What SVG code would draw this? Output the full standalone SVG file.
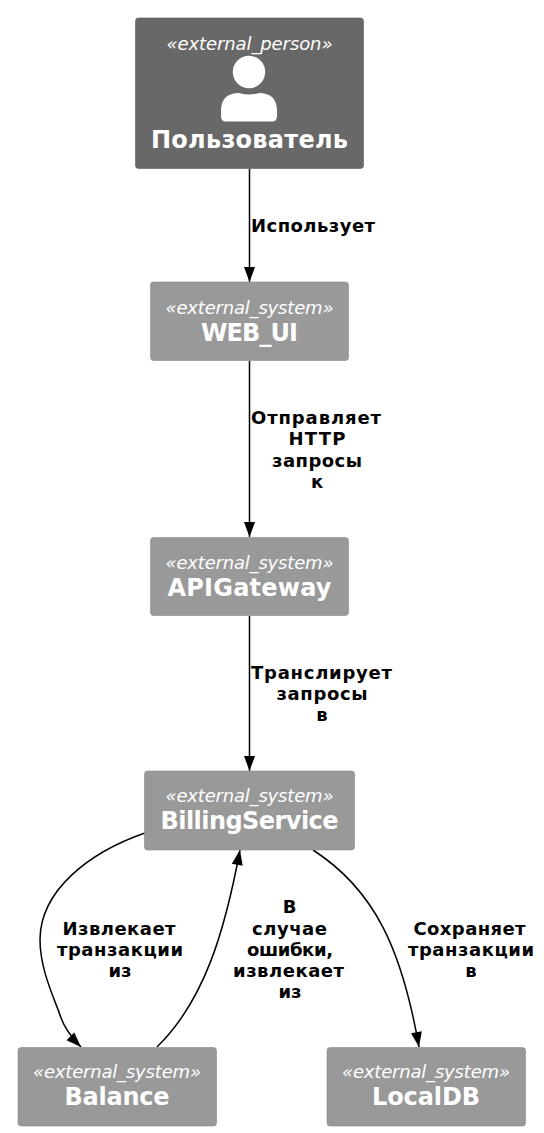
<svg xmlns="http://www.w3.org/2000/svg" width="544" height="1133" viewBox="0 0 544 1133">
<style>
text{font-family:"DejaVu Sans",sans-serif;text-anchor:middle}
.box{fill:#999999;stroke:#8a8a8a;stroke-width:0.6}
.st{font-size:18px;font-style:italic;fill:#fff}
.nm{font-size:24px;font-weight:bold;fill:#fff}
.lb{font-size:18px;font-weight:bold;fill:#000}
.c{fill:none;stroke:#000;stroke-width:1.5;marker-end:url(#a)}
</style>
<defs><marker id="a" markerUnits="userSpaceOnUse" markerWidth="15" markerHeight="11" refX="15" refY="5.500" viewBox="0 0 15 11" orient="auto" overflow="visible"><path d="M0 0L15 5.500L0 11Z" fill="#000"/></marker></defs>
<rect width="544" height="1133" fill="#fff"/>
<g id="connectors">
<path class="c" d="M249.500 169V282"/>
<path class="c" d="M249.500 361V537"/>
<path class="c" d="M249.500 616V771"/>
<path class="c" d="M145 833C90 852 40 890 40 940C40 970 55 1000 60 1015C64 1028 72 1038 81 1047"/>
<path class="c" d="M157 1047C205 1000 225 930 240 850"/>
<path class="c" d="M313 850C375 890 402 950 419 1047"/>
</g>
<g id="Пользователь">
<rect class="box" style="fill:#686868;stroke:#5c5c5c" x="135.500" y="18" width="228" height="150.500" rx="3"/>
<text class="st" x="249.500" y="50" textLength="166">«external_person»</text>
<circle cx="249" cy="72" r="16.200" fill="#fff"/>
<path d="M226 121.500Q221 121.500 221 116V111Q221 93 239 93Q249 96 259 93Q277 93 277 111V116Q277 121.500 272 121.500Z" fill="#fff"/>
<text class="nm" x="249.500" y="148" textLength="197">Пользователь</text>
</g>
<g id="WEB_UI">
<rect class="box" x="150.500" y="282" width="198" height="78.500" rx="3"/>
<text class="st" x="249.500" y="313.500" textLength="168">«external_system»</text>
<text class="nm" x="249.500" y="341" textLength="97">WEB_UI</text>
</g>
<g id="APIGateway">
<rect class="box" x="150.500" y="537.500" width="198" height="78" rx="3"/>
<text class="st" x="249.500" y="568.500" textLength="168">«external_system»</text>
<text class="nm" x="249.500" y="596" textLength="164">APIGateway</text>
</g>
<g id="BillingService">
<rect class="box" x="144.500" y="771" width="210" height="79" rx="3"/>
<text class="st" x="249.500" y="802" textLength="168">«external_system»</text>
<text class="nm" x="249.500" y="829" textLength="178">BillingService</text>
</g>
<g id="Balance">
<rect class="box" x="18" y="1047.500" width="198.500" height="78.500" rx="3"/>
<text class="st" x="117" y="1078" textLength="168">«external_system»</text>
<text class="nm" x="117" y="1105" textLength="105">Balance</text>
</g>
<g id="LocalDB">
<rect class="box" x="327" y="1047.500" width="198.500" height="78.500" rx="3"/>
<text class="st" x="426" y="1078" textLength="168">«external_system»</text>
<text class="nm" x="426" y="1105" textLength="108">LocalDB</text>
</g>
<g id="labels">
<text class="lb" x="313" y="232" textLength="124">Использует</text>
<text class="lb" x="316" y="424" textLength="130">Отправляет</text>
<text class="lb" x="317" y="445" textLength="57">HTTP</text>
<text class="lb" x="317" y="467" textLength="90">запросы</text>
<text class="lb" x="317" y="488">к</text>
<text class="lb" x="321.500" y="679" textLength="141">Транслирует</text>
<text class="lb" x="322" y="700" textLength="91">запросы</text>
<text class="lb" x="322" y="721">в</text>
<text class="lb" x="119" y="935" textLength="113">Извлекает</text>
<text class="lb" x="120" y="956" textLength="126">транзакции</text>
<text class="lb" x="120" y="977">из</text>
<text class="lb" x="289.500" y="913">В</text>
<text class="lb" x="289.500" y="935" textLength="75">случае</text>
<text class="lb" x="290" y="956" textLength="86">ошибки,</text>
<text class="lb" x="288.500" y="977" textLength="111">извлекает</text>
<text class="lb" x="290" y="998">из</text>
<text class="lb" x="469.500" y="935" textLength="112">Сохраняет</text>
<text class="lb" x="471" y="956" textLength="126">транзакции</text>
<text class="lb" x="471" y="977">в</text>
</g>
</svg>
